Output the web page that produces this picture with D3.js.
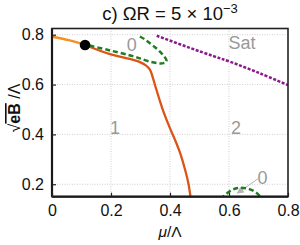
<!DOCTYPE html>
<html lang="en">
<head>
  <meta charset="UTF-8">
  <title>Phase diagram</title>
  <style>
    body { margin: 0; background: #fff; }
    svg { display: block; font-family: "Liberation Sans", Arial, sans-serif; }
  </style>
</head>
<body>
  <svg width="300" height="245"></svg>

  <script src="https://cdn.jsdelivr.net/npm/d3@7"></script>
  <script>
    // ---- data ----
    const xTicks = [0, 0.2, 0.4, 0.6, 0.8];
    const yTicks = [0.2, 0.4, 0.6, 0.8];

    // orange part of the transition line, up to the black point
    const orangeMu = [0, 0.06, 0.112];
    const orangeB  = [0.792, 0.777, 0.759];

    // red first-order line
    const redMu = [0.112, 0.197, 0.275, 0.300, 0.318, 0.332, 0.342, 0.352, 0.365, 0.380, 0.398, 0.417, 0.435, 0.450, 0.462, 0.470];
    const redB  = [0.759, 0.722, 0.699, 0.689, 0.677, 0.660, 0.627, 0.587, 0.537, 0.484, 0.430, 0.378, 0.323, 0.263, 0.205, 0.145];

    // green dashed boundary (upper loop)
    const greenMu = [0.298, 0.315, 0.332, 0.350, 0.366, 0.380, 0.388, 0.387, 0.378, 0.366, 0.332, 0.298, 0.275, 0.197, 0.119];
    const greenB  = [0.793, 0.781, 0.766, 0.749, 0.732, 0.713, 0.698, 0.690, 0.686, 0.685, 0.692, 0.705, 0.714, 0.737, 0.759];

    // green dashed boundary (bottom arc)
    const green2Mu = [0.572, 0.60, 0.62, 0.64, 0.66, 0.685, 0.705, 0.712];
    const green2B  = [0.14, 0.170, 0.182, 0.186, 0.183, 0.172, 0.152, 0.14];

    // purple saturation line
    const satMu = [0.355, 0.468, 0.55, 0.603, 0.705, 0.80];
    const satB  = [0.796, 0.747, 0.713, 0.692, 0.645, 0.598];

    const point = [0.112, 0.759];

    const regionLabels = ["0", "1", "2", "Sat", "0"];
    const regionMu = [0.270, 0.214, 0.624, 0.644, 0.714];
    const regionB  = [0.759, 0.424, 0.424, 0.765, 0.226];

    const arrowFrom = [0.698, 0.222];
    const arrowTo   = [0.628, 0.164];

    // ---- layout ----
    const svg = d3.select("svg");
    const m = { left: 52, right: 288, top: 28.5, bottom: 196.7 };

    const x = d3.scaleLinear().domain([0, 0.8]).range([m.left, m.right]);
    const y = d3.scaleLinear().domain([0.15, 0.825]).range([m.bottom, m.top]);

    const zip = (a, b) => a.map((v, i) => [v, b[i]]);
    const line = d3.line().x(d => x(d[0])).y(d => y(d[1])).curve(d3.curveCatmullRom);

    const defs = svg.append("defs");
    defs.append("clipPath").attr("id", "clip")
      .append("rect")
      .attr("x", m.left).attr("y", m.top)
      .attr("width", m.right - m.left).attr("height", m.bottom - m.top);

    defs.append("marker")
      .attr("id", "arr")
      .attr("viewBox", "0 0 10 10")
      .attr("refX", 9).attr("refY", 5)
      .attr("markerWidth", 9).attr("markerHeight", 7)
      .attr("markerUnits", "userSpaceOnUse")
      .attr("orient", "auto")
      .append("path")
      .attr("d", "M0,0L10,5L0,10z")
      .attr("fill", "#b3b3b3");

    // grid
    const grid = svg.append("g").attr("stroke", "#cfcfcf").attr("stroke-dasharray", "1,1.5");
    grid.selectAll(".gx").data(xTicks.slice(1, -1)).enter().append("line")
      .attr("x1", d => x(d)).attr("x2", d => x(d))
      .attr("y1", m.top).attr("y2", m.bottom);
    grid.selectAll(".gy").data(yTicks).enter().append("line")
      .attr("x1", m.left).attr("x2", m.right)
      .attr("y1", d => y(d)).attr("y2", d => y(d));

    // region labels
    svg.append("g")
      .selectAll("text")
      .data(regionLabels)
      .enter().append("text")
      .attr("x", (d, i) => x(regionMu[i]))
      .attr("y", (d, i) => y(regionB[i]))
      .attr("text-anchor", "middle")
      .attr("dominant-baseline", "central")
      .attr("font-size", 18)
      .attr("fill", "#9a9a9a")
      .text(d => d);

    // arrow to the small 0 region
    svg.append("line")
      .attr("x1", x(arrowFrom[0])).attr("y1", y(arrowFrom[1]))
      .attr("x2", x(arrowTo[0])).attr("y2", y(arrowTo[1]))
      .attr("stroke", "#b3b3b3").attr("stroke-width", 1)
      .attr("marker-end", "url(#arr)");

    const plot = svg.append("g").attr("clip-path", "url(#clip)");

    plot.append("path")
      .attr("d", line(zip(satMu, satB)))
      .attr("fill", "none").attr("stroke", "#8a1a8c")
      .attr("stroke-width", 2.5).attr("stroke-dasharray", "3,1.6");

    plot.append("path")
      .attr("d", line(zip(redMu, redB)))
      .attr("fill", "none").attr("stroke", "#dc5418").attr("stroke-width", 2.3);

    plot.append("path")
      .attr("d", line(zip(orangeMu, orangeB)))
      .attr("fill", "none").attr("stroke", "#f68f1e").attr("stroke-width", 2.3);

    plot.append("path")
      .attr("d", line(zip(greenMu, greenB)))
      .attr("fill", "none").attr("stroke", "#1f7d1f")
      .attr("stroke-width", 2.5).attr("stroke-dasharray", "5,3");

    plot.append("path")
      .attr("d", line(zip(green2Mu, green2B)))
      .attr("fill", "none").attr("stroke", "#1f7d1f")
      .attr("stroke-width", 2.5).attr("stroke-dasharray", "5,3");

    svg.append("circle")
      .attr("cx", x(point[0])).attr("cy", y(point[1]))
      .attr("r", 5.3).attr("fill", "#000");

    // frame
    svg.append("rect")
      .attr("x", m.left).attr("y", m.top)
      .attr("width", m.right - m.left).attr("height", m.bottom - m.top)
      .attr("fill", "none").attr("stroke", "#222").attr("stroke-width", 1.6);
    svg.append("line").attr("x1", m.left).attr("x2", m.left).attr("y1", m.top).attr("y2", m.bottom)
      .attr("stroke", "#1a1a1a").attr("stroke-width", 2.2);
    svg.append("line").attr("x1", m.left).attr("x2", m.right).attr("y1", m.bottom).attr("y2", m.bottom)
      .attr("stroke", "#1a1a1a").attr("stroke-width", 2.2);

    // axes (ticks inside the frame)
    const xAxis = svg.append("g").attr("transform", `translate(0,${m.bottom})`)
      .call(d3.axisBottom(x).tickValues(xTicks).tickSizeInner(-4).tickSizeOuter(0)
        .tickPadding(8).tickFormat(d => d === 0 ? "0" : d3.format(".1f")(d)));
    const yAxis = svg.append("g").attr("transform", `translate(${m.left},0)`)
      .call(d3.axisLeft(y).tickValues(yTicks).tickSizeInner(-4).tickSizeOuter(0)
        .tickPadding(8).tickFormat(d3.format(".1f")));
    [xAxis, yAxis].forEach(a => {
      a.select(".domain").remove();
      a.selectAll("line").attr("stroke", "#222").attr("stroke-width", 1.2);
      a.selectAll("text").attr("font-size", 16).attr("fill", "#111")
        .attr("font-family", "'Liberation Sans', Arial, sans-serif");
    });

    // title
    const title = svg.append("text")
      .attr("x", (m.left + m.right) / 2).attr("y", 20)
      .attr("text-anchor", "middle").attr("font-size", 18.5).attr("fill", "#111");
    title.append("tspan").text("c) ΩR = 5 × 10");
    title.append("tspan").attr("dy", -7).attr("font-size", 13).text("−3");

    // axis labels
    svg.append("text")
      .attr("x", (m.left + m.right) / 2).attr("y", 237)
      .attr("text-anchor", "middle").attr("font-size", 15.5).attr("fill", "#111")
      .html('<tspan font-style="italic">μ</tspan>/Λ');

    const yl = svg.append("text")
      .attr("transform", "translate(20,108) rotate(-90)")
      .attr("text-anchor", "middle").attr("font-size", 16).attr("fill", "#111");
    yl.append("tspan").text("√");
    yl.append("tspan").attr("font-weight", "bold")
      .style("text-decoration", "overline").text("eB");
    yl.append("tspan").text(" /Λ");
  </script>
</body>
</html>
